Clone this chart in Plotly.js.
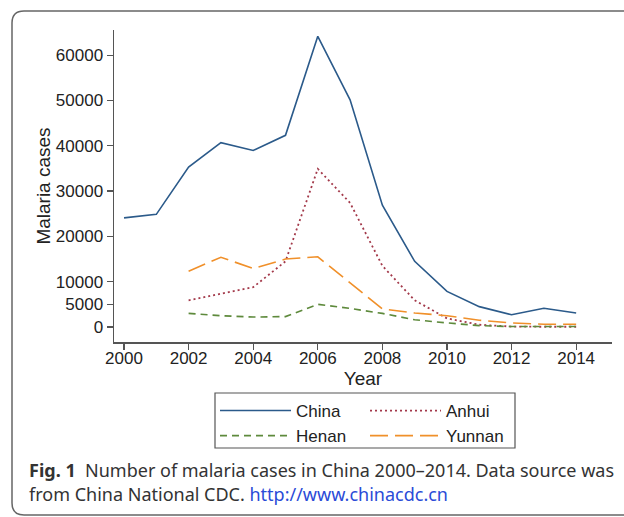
<!DOCTYPE html>
<html>
<head>
<meta charset="utf-8">
<script src="https://cdn.plot.ly/plotly-3.0.1.min.js"></script>
<style>
html,body{margin:0;padding:0;background:#fff;}
#chart{width:624px;height:517px;}
</style>
</head>
<body>
<div id="chart"></div>
<script>
const years = [2000,2001,2002,2003,2004,2005,2006,2007,2008,2009,2010,2011,2012,2013,2014];
const china  = [24088,24873,35298,40681,38972,42319,64178,50142,26882,14491,7855,4498,2718,4128,3078];
const anhuiYears = [2002,2003,2004,2005,2006,2007,2008,2009,2010,2011,2012,2013,2014];
const anhui  = [5900,7300,8800,14500,34900,27400,13500,5900,1900,500,100,50,50];
const henan  = [3000,2500,2200,2300,5000,4100,3000,1600,900,300,100,100,100];
const yunnan = [12300,15400,12900,15000,15500,9800,4000,3100,2500,1500,900,600,600];
const seriesNames = ["China","Anhui","Henan","Yunnan"];
const yTicks = [0,5000,10000,20000,30000,40000,50000,60000];
const xTicks = [2000,2002,2004,2006,2008,2010,2012,2014];

const traces = [
  {x: years, y: china, name: seriesNames[0], mode:'lines', legend:'legend',
   line:{color:'#2b5a8a', width:1.6}},
  {x: anhuiYears, y: anhui, name: seriesNames[1], mode:'lines', legend:'legend2',
   line:{color:'#a3394a', width:1.8, dash:'2px,3px'}},
  {x: anhuiYears, y: henan, name: seriesNames[2], mode:'lines', legend:'legend',
   line:{color:'#5e8a3c', width:1.6, dash:'7px,5px'}},
  {x: anhuiYears, y: yunnan, name: seriesNames[3], mode:'lines', legend:'legend2',
   line:{color:'#f0902a', width:1.6, dash:'18px,7px'}}
];

const px = v => (v-114)/498;
const py = v => (342-v)/312;
const r = 12;
const L = px(12), T = py(11), B = py(515), R = 1.08;
const rx = r/498, ry = r/312;
const framePath = `M ${R},${T} L ${L+rx},${T} Q ${L},${T} ${L},${T-ry} L ${L},${B+ry} Q ${L},${B} ${L+rx},${B} L ${R},${B}`;

const legendBase = {
  orientation:'v', yanchor:'top', xanchor:'left',
  borderwidth:0, bgcolor:'rgba(0,0,0,0)',
  font:{size:17, color:'#222'}, itemwidth:71, traceorder:'normal', tracegroupgap:0
};

const layout = {
  width: 624, height: 517,
  margin: {l:114, r:12, t:30, b:175},
  paper_bgcolor:'#fff', plot_bgcolor:'#fff',
  font: {family:'"Liberation Sans", Arial, sans-serif', color:'#222'},
  showlegend: true,
  xaxis: {
    range:[1999.69, 2015.11], tickvals: xTicks, ticktext: xTicks.map(String),
    showgrid:false, zeroline:false, showline:true, linecolor:'#555', linewidth:1.5,
    ticks:'outside', ticklen:6, tickcolor:'#555', tickwidth:1.3,
    ticklabelstandoff:-6,
    tickfont:{size:17, color:'#222'},
    title:{text:'Year', font:{size:19, color:'#222'}, standoff:3}
  },
  yaxis: {
    range:[-3311, 65563], tickvals: yTicks, ticktext: yTicks.map(String),
    showgrid:false, zeroline:false, showline:true, linecolor:'#555', linewidth:1.5,
    ticks:'outside', ticklen:6, tickcolor:'#555', tickwidth:1.3,
    tickfont:{size:17, color:'#222'},
    title:{text:'Malaria cases', font:{size:19, color:'#222'}, standoff:0}
  },
  legend: Object.assign({}, legendBase, {x: px(215), y: py(393)}),
  legend2: Object.assign({}, legendBase, {x: px(365), y: py(393)}),
  shapes: [
    {type:'path', xref:'paper', yref:'paper', path: framePath,
     line:{color:'#666', width:1.5}},
    {type:'rect', xref:'paper', yref:'paper', x0: px(215), x1: px(515), y0: py(393), y1: py(448),
     line:{color:'#555', width:1.2}, fillcolor:'rgba(0,0,0,0)'}
  ],
  annotations: [
    {xref:'paper', yref:'paper', x: px(27), y: py(470), xanchor:'left', yanchor:'middle',
     showarrow:false, align:'left',
     text:'<b>Fig. 1</b>\u00a0\u00a0Number of malaria cases in China 2000\u20132014. Data source was',
     font:{family:'"Noto Sans", "Open Sans", sans-serif', size:18, color:'#333'}},
    {xref:'paper', yref:'paper', x: px(27), y: py(494), xanchor:'left', yanchor:'middle',
     showarrow:false, align:'left',
     text:'from China National CDC. <span style="color:#2a4bd7">http://www.chinacdc.cn</span>',
     font:{family:'"Noto Sans", "Open Sans", sans-serif', size:18, color:'#333'}}
  ]
};

Plotly.newPlot('chart', traces, layout, {displayModeBar:false, staticPlot:true});
</script>
</body>
</html>
